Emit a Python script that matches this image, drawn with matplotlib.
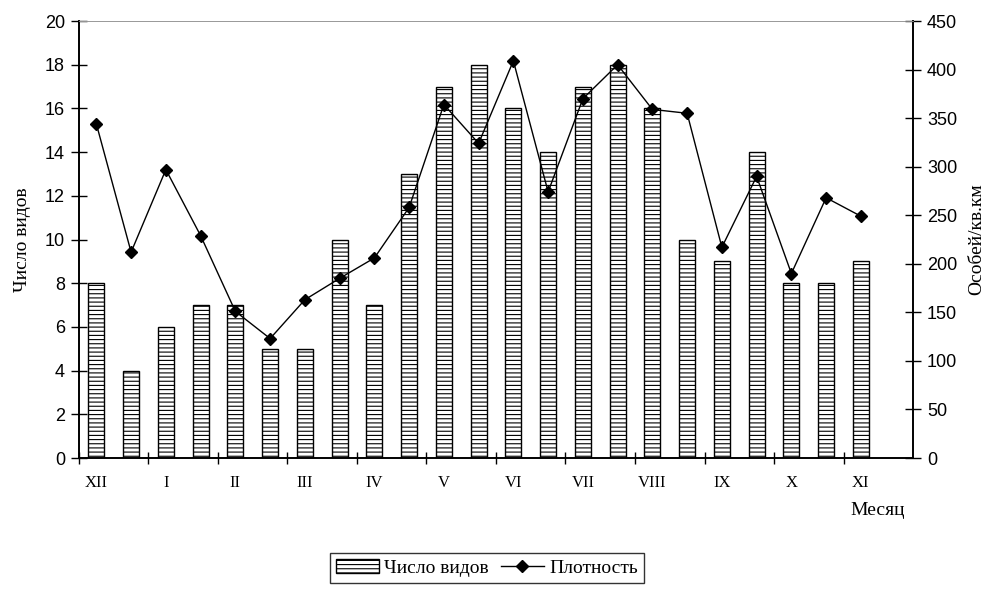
import numpy as np
import matplotlib
matplotlib.use("Agg")
import matplotlib.pyplot as plt

# данные
mesyacy = ["XII", "I", "II", "III", "IV", "V", "VI", "VII", "VIII", "IX", "X", "XI"]
chislo_vidov = [8, 4, 6, 7, 7, 5, 5, 10, 7, 13, 17, 18, 16, 14, 17, 18, 16, 10, 9, 14, 8, 8, 9]
plotnost = [344, 212, 297, 229, 151, 123, 163, 185, 206, 258, 364, 324,
            409, 274, 370, 405, 359, 355, 217, 290, 190, 268, 249]
n_kat = 24  # последняя категория пустая

plt.rcParams['font.family'] = ['Liberation Sans', 'DejaVu Sans']
plt.rcParams['hatch.linewidth'] = 0.8
serif = ['Liberation Serif', 'DejaVu Serif']

fig = plt.figure(figsize=(9.91, 5.89), dpi=100)
ax = fig.add_axes([0.0797, 0.2224, 0.8416, 0.7419])
ax2 = ax.twinx()

x = np.arange(len(chislo_vidov))
bars = ax.bar(x, chislo_vidov, width=0.46, color='white', edgecolor='black',
              hatch='----', linewidth=1.0, label='Число видов')
line, = ax2.plot(x, plotnost, color='black', lw=1.0, marker='D', ms=6.5,
                 label='Плотность')

ax.set_xlim(-0.5, n_kat - 0.5)
ax.set_ylim(0, 20)
ax.set_yticks(range(0, 21, 2))
ax2.set_ylim(0, 450)
ax2.set_yticks(range(0, 451, 50))

ax.set_xticks(np.arange(-0.5, n_kat - 0.5, 2))
ax.set_xticklabels([])
ax.set_xticks(np.arange(0, len(chislo_vidov), 2), minor=True)
ax.set_xticklabels(mesyacy, minor=True, family=serif, fontsize=12)
ax.tick_params(axis='x', which='minor', length=0, pad=12)
ax.tick_params(axis='x', which='major', direction='inout', length=9, width=1)

ax.tick_params(axis='y', direction='inout', length=12, width=1, labelsize=13, pad=4)
ax2.tick_params(axis='y', direction='inout', length=12, width=1, labelsize=13, pad=4)

for a in (ax, ax2):
    a.spines['top'].set_color('#999999')
    a.spines['top'].set_linewidth(0.6)
    a.spines['left'].set_linewidth(1.2)
    a.spines['right'].set_linewidth(1.2)
    a.spines['bottom'].set_linewidth(1.2)

ax.set_ylabel('Число видов', family=serif, fontsize=14, labelpad=10)
ax2.set_ylabel('Особей/кв.км', family=serif, fontsize=14, rotation=90, labelpad=8)

fig.text(0.886, 0.133, 'Месяц', family=serif, fontsize=14, ha='center', va='center')

leg = fig.legend(handles=[bars, line], loc='upper center',
                 bbox_to_anchor=(0.4914, 0.077), ncol=2, frameon=True,
                 fancybox=False, edgecolor='black', prop={'family': serif, 'size': 14},
                 handlelength=2.2, handletextpad=0.3, columnspacing=0.6,
                 borderpad=0.3)
leg.get_frame().set_linewidth(1.0)

fig.savefig('out.png', dpi=100, facecolor='white')
